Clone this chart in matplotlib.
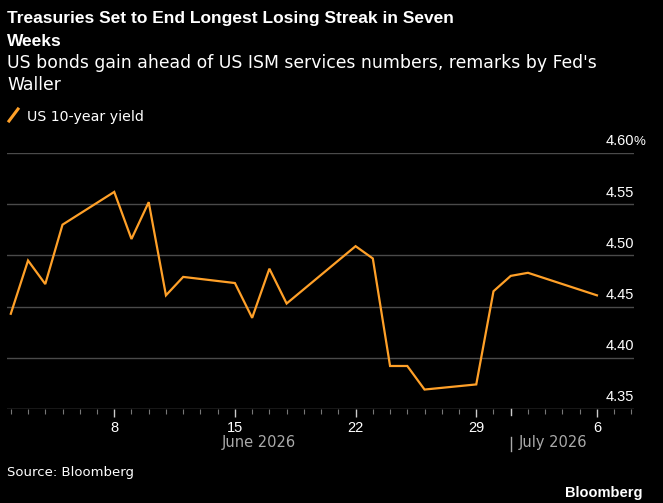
import matplotlib.pyplot as plt
import matplotlib.dates as mdates
import numpy as np

# US 10-year yield, daily closes
dates = np.array([
    '2026-06-02', '2026-06-03', '2026-06-04', '2026-06-05',
    '2026-06-08', '2026-06-09', '2026-06-10', '2026-06-11', '2026-06-12',
    '2026-06-15', '2026-06-16', '2026-06-17', '2026-06-18',
    '2026-06-22', '2026-06-23', '2026-06-24', '2026-06-25', '2026-06-26',
    '2026-06-29', '2026-06-30', '2026-07-01', '2026-07-02', '2026-07-06',
], dtype='datetime64[D]')
yields = [
    4.443, 4.495, 4.472, 4.530,
    4.562, 4.516, 4.552, 4.461, 4.479,
    4.473, 4.439, 4.487, 4.453,
    4.509, 4.497, 4.392, 4.392, 4.369,
    4.374, 4.465, 4.480, 4.483, 4.461,
]
y_ticks = [4.35, 4.40, 4.45, 4.50, 4.55, 4.60]
y_labels = ['4.35', '4.40', '4.45', '4.50', '4.55', '4.60']

title_lines = ["Treasuries Set to End Longest Losing Streak in Seven", "Weeks"]
subtitle_lines = ["US bonds gain ahead of US ISM services numbers, remarks by Fed's",
                  "Waller"]
series_name = "US 10-year yield"

ORANGE = '#FFA028'
GRID = '#4a4a4a'
NUM_FONT = 'Liberation Sans'
W, H = 663, 503


def fx(px):
    return px / W


def fy(py):
    return 1 - py / H


fig = plt.figure(figsize=(W / 100, H / 100), dpi=100, facecolor='black')
ax = fig.add_axes([fx(7), fy(409), fx(634 - 7), (409 - 153) / H])
ax.set_facecolor('black')

x = mdates.date2num(dates)
ax.plot(x, yields, color=ORANGE, lw=1.6, solid_joinstyle='miter')

x0 = mdates.date2num(np.datetime64('2026-06-01')) + 0.78
x1 = mdates.date2num(np.datetime64('2026-07-08')) + 0.15
ax.set_xlim(x0, x1)
ax.set_ylim(4.35, 4.60)

# grid lines with labels sitting above, right-aligned
for v, lab in zip(y_ticks, y_labels):
    ax.axhline(v, color=GRID if v > 4.35 else '#777777', lw=1.0, zorder=0)
    ax.text(x1, v + 0.0075, lab, ha='right', va='baseline', color='white',
            fontsize=10.5, family=NUM_FONT)
ax.text(x1, 4.6075, '%', ha='left', va='baseline', color='white',
        fontsize=9.5, family=NUM_FONT)
ax.set_yticks([])

for s in ax.spines.values():
    s.set_visible(False)

ax.xaxis.set_major_locator(mdates.WeekdayLocator(byweekday=mdates.MO))
ax.xaxis.set_minor_locator(mdates.DayLocator())
ax.xaxis.set_major_formatter(
    plt.FuncFormatter(lambda v, p: str(mdates.num2date(v).day)))
ax.tick_params(axis='x', which='major', colors='white', length=6, width=1,
               labelsize=10.5, pad=2.5, color='#cccccc')
ax.tick_params(axis='x', which='minor', length=3.5, width=0.8, color='#777777')
for lab in ax.get_xticklabels():
    lab.set_family(NUM_FONT)

# month labels
xt = ax.get_xaxis_transform()
jul1 = mdates.date2num(np.datetime64('2026-07-01'))
ax.plot([jul1, jul1], [0, -0.024], transform=xt, color='#cccccc', lw=1,
        clip_on=False)
ax.plot([jul1, jul1], [-0.11, -0.163], transform=xt, color='#aaaaaa', lw=1,
        clip_on=False)
ax.text((x0 + jul1) / 2, -0.148, 'June 2026', transform=xt,
        ha='center', va='baseline', color='#aaaaaa', fontsize=10.5)
ax.text(jul1 + 0.45, -0.148, 'July 2026', transform=xt,
        ha='left', va='baseline', color='#aaaaaa', fontsize=10.5)

# header
for line, base in zip(title_lines, [23, 46]):
    fig.text(fx(7), fy(base), line, ha='left', va='baseline', color='white',
             fontsize=12.5, fontweight='bold', family='Liberation Sans')
for line, base in zip(subtitle_lines, [68, 90]):
    fig.text(fx(7), fy(base), line, ha='left', va='baseline', color='white',
             fontsize=12.4)
fig.lines.append(plt.Line2D([fx(9), fx(18)], [fy(121), fy(109)],
                            transform=fig.transFigure, color=ORANGE, lw=2.2))
fig.text(fx(27), fy(121), series_name, ha='left', va='baseline', color='white',
         fontsize=10.2)

fig.text(fx(7), fy(476), 'Source: Bloomberg', ha='left', va='baseline',
         color='white', fontsize=9.5)
fig.text(fx(642), fy(497), 'Bloomberg', ha='right', va='baseline',
         color='white', fontsize=10.5, fontweight='bold', family='Liberation Sans')

fig.savefig('out.png', dpi=100, facecolor='black')
